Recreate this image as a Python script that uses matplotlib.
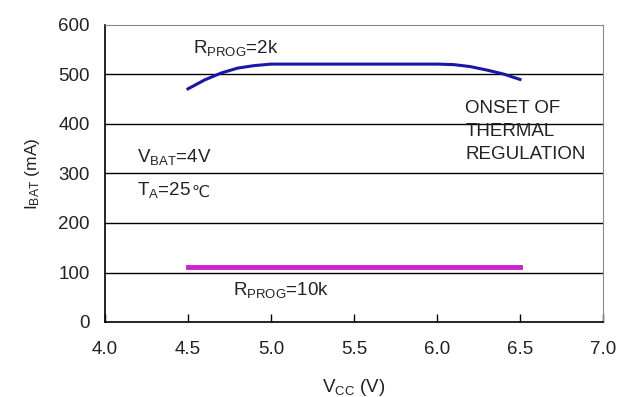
"""I_BAT vs V_CC charge current curves (RPROG = 2k / 10k)."""

import matplotlib

matplotlib.use("Agg")
import matplotlib.pyplot as plt

plt.rcParams["font.family"] = ["Liberation Sans", "DejaVu Sans"]
plt.rcParams["mathtext.fontset"] = "custom"
plt.rcParams["mathtext.rm"] = "Liberation Sans"
plt.rcParams["mathtext.it"] = "Liberation Sans"

# R_PROG = 2k curve
vcc_2k = [4.5, 4.6, 4.7, 4.8, 4.9, 5.0, 5.5, 6.0, 6.1, 6.2, 6.3, 6.4, 6.5]
ibat_2k = [471, 489, 503, 513, 518, 521, 521, 521, 520, 516, 509, 501, 490]

# R_PROG = 10k curve
vcc_10k = [4.5, 6.5]
ibat_10k = [111, 111]

x_ticks = [4.0, 4.5, 5.0, 5.5, 6.0, 6.5, 7.0]
y_ticks = [0, 100, 200, 300, 400, 500, 600]

FS = 13.5
TXT_COLOR = "#222222"

fig = plt.figure(figsize=(6.26, 3.97), dpi=100)
ax = fig.add_axes([105 / 626, 1 - 322 / 397, 498 / 626, 297 / 397])

for y in y_ticks[1:-1]:
    ax.axhline(y, color="black", lw=1.0, zorder=1)

ax.plot(vcc_2k, ibat_2k, color="#1818a8", lw=2.2, zorder=3)
ax.plot(vcc_10k, ibat_10k, color="#cc22cc", lw=3.5, zorder=3)

ax.set_xlim(4.0, 7.0)
ax.set_ylim(0, 600)
ax.set_xticks(x_ticks)
ax.set_xticklabels([f"{v:.1f}" for v in x_ticks], fontsize=FS, color=TXT_COLOR)
ax.set_yticks(y_ticks)
ax.set_yticklabels([str(v) for v in y_ticks], fontsize=FS, color=TXT_COLOR)
ax.tick_params(axis="x", direction="in", length=6, width=1, pad=14)
ax.tick_params(axis="y", length=0, pad=11)

for side in ("top", "right"):
    ax.spines[side].set_color("#888888")
for side in ("left", "bottom"):
    ax.spines[side].set_color("black")
    ax.spines[side].set_linewidth(1.2)

ax.set_xlabel(r"V$_\mathrm{CC}$ (V)", fontsize=FS, color=TXT_COLOR, labelpad=13)
ax.set_ylabel(r"I$_\mathrm{BAT}$ (mA)", fontsize=FS - 1, color=TXT_COLOR, labelpad=12)

txt = dict(fontsize=FS, color=TXT_COLOR)
ax.text(4.53, 543, r"R$_\mathrm{PROG}$=2k", **txt)
ax.text(4.77, 55, r"R$_\mathrm{PROG}$=10k", **txt)
ax.text(4.19, 323, r"V$_\mathrm{BAT}$=4V", **txt)
t_a = ax.text(4.19, 256, r"T$_\mathrm{A}$=25", **txt)
# degree-celsius sign is not in Liberation Sans, so draw it right after in DejaVu
ax.annotate("℃", xy=(1, 0), xycoords=t_a, fontsize=FS - 2, color=TXT_COLOR,
            family="DejaVu Sans", va="bottom", xytext=(0.5, 0),
            textcoords="offset points")
ax.text(6.17, 448, "ONSET OF\nTHERMAL\nREGULATION", va="top",
        linespacing=1.45, **txt)

fig.savefig("out.png", dpi=100)
